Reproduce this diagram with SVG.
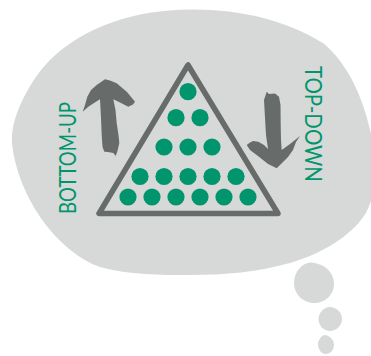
<svg xmlns="http://www.w3.org/2000/svg" width="371" height="356" viewBox="0 0 371 356">
<style>
.bubble{fill:#d7d9d8}
.arrow{fill:#676c6a}
.dot{fill:#00956c}
.label{font-family:"Lato","Liberation Sans",sans-serif;font-size:22.500px;fill:#00956c}
</style>
<rect width="371" height="356" fill="#ffffff"/>
<g id="thought-bubble">
<path class="bubble" d="M12 143C10 118 30 80 50 60C85 26 135 10 190 9.500C240 9 285 20 323 43C350 65 367 105 374 150C378 175 375 195 366 213C350 238 320 254 290 263C258 272 225 275 190 275C160 275 130 275 100 267C60 253 18 200 12 143Z"/>
<path class="bubble" d="M294 283C294 271 303 263 310 262.500C324 263 334 272 334 284C334 295 325 303 314 303C303 303 294 294 294 283Z"/>
<path class="bubble" d="M318.500 319C318.500 312 325 307 329 307C337 307 342 313 342 319C342 326 336 331 330 331C324 331 318.500 326 318.500 319Z"/>
<path class="bubble" d="M318 344C318 340 322 335 325 335C331 336 334 341 334 345C334 350 330 354 326 354C321 354 318 349 318 344Z"/>
</g>
<g id="triangle">
<path d="M188 65L99 213.500L278 213.500Z" fill="none" stroke="#676c6a" stroke-width="5.500" stroke-linejoin="round"/>
</g>
<g id="dots">
<circle class="dot" cx="188" cy="91.700" r="8.600"/>
<circle class="dot" cx="176" cy="117.700" r="8.600"/><circle class="dot" cx="200" cy="117.700" r="8.600"/>
<circle class="dot" cx="164" cy="147" r="8.600"/><circle class="dot" cx="188" cy="147" r="8.600"/><circle class="dot" cx="212" cy="147" r="8.600"/>
<circle class="dot" cx="140" cy="176.500" r="8.600"/><circle class="dot" cx="164" cy="176.500" r="8.600"/><circle class="dot" cx="188" cy="176.500" r="8.600"/><circle class="dot" cx="212" cy="176.500" r="8.600"/><circle class="dot" cx="236" cy="176.500" r="8.600"/>
<circle class="dot" cx="128" cy="197" r="8.600"/><circle class="dot" cx="152" cy="197" r="8.600"/><circle class="dot" cx="176" cy="197" r="8.600"/><circle class="dot" cx="200" cy="197" r="8.600"/><circle class="dot" cx="224" cy="197" r="8.600"/><circle class="dot" cx="248" cy="197" r="8.600"/>
</g>
<g id="connectors">
<path class="arrow" d="M105 79.300L110 80.500L116.700 83.300L127 92L135 101.700L133 104.500L128.300 106.700L121 103L113.300 99.300L115.500 110L116.700 123L118.500 135L119.300 143L117.500 151L115.700 156L113.300 153L108 152L104.300 151.700L102.500 147L101.700 135L101 118L100 99.300L94 103L88.300 106.700L82.700 111.700L85 105L87.300 96.700L91 90L96.700 85Z"/>
<path class="arrow" d="M266.700 91.700L269 94L275 93.500L279 96.700L280.500 105L280.700 125L281 140L281.700 150L290 144L300 136L296 142L293 150L288 157L281 164L276.700 168.300L268 164L258 156L250 150L246.700 145L250 142.500L253 141L258.300 141.700L264 145L268 149L266 135L265 118L264 100Z"/>
</g>
<g id="label-bottom-up">
<text class="label" transform="translate(76 214) rotate(-90)" textLength="112" lengthAdjust="spacingAndGlyphs">BOTTOM-UP</text>
</g>
<g id="label-top-down">
<text class="label" transform="translate(305 66) rotate(90)" textLength="116" lengthAdjust="spacingAndGlyphs">TOP-DOWN</text>
</g>
</svg>
